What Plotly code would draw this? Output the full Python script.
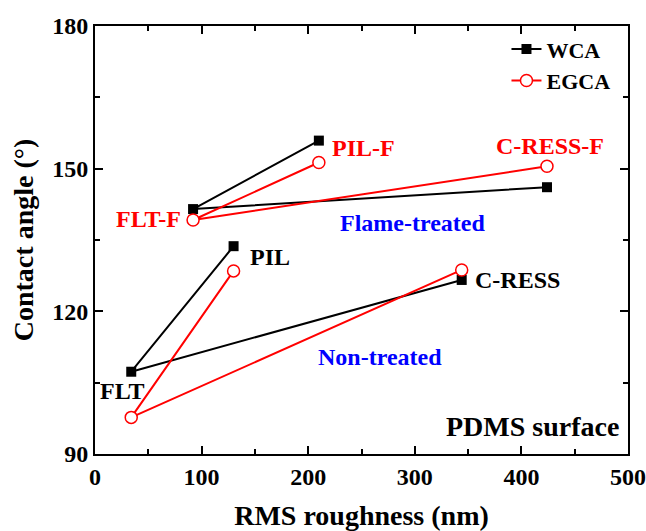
import plotly.graph_objects as go

# Data (order within each group: PIL, FLT, C-RESS -> V-shaped connection from FLT)
nt_x = [130, 34, 344]
nt_wca = [133.7, 107.3, 126.6]
nt_egca = [128.5, 97.7, 128.7]

ft_x = [210, 92, 424]
ft_wca = [155.9, 141.5, 146.1]
ft_egca = [151.3, 139.2, 150.5]

x_ticks = [0, 100, 200, 300, 400, 500]
y_ticks = [90, 120, 150, 180]

FONT = "Times New Roman, Liberation Serif, serif"

fig = go.Figure()
sq = dict(symbol="square", size=10, color="black")
circ = dict(symbol="circle", size=12, color="white", line=dict(width=1.5, color="red"))

fig.add_trace(go.Scatter(x=nt_x, y=nt_wca, mode="lines+markers", name="<b>WCA</b>",
                         line=dict(color="black", width=2), marker=sq))
fig.add_trace(go.Scatter(x=nt_x, y=nt_egca, mode="lines+markers", name="<b>EGCA</b>",
                         line=dict(color="red", width=2), marker=circ))
fig.add_trace(go.Scatter(x=ft_x, y=ft_wca, mode="lines+markers", name="WCA",
                         line=dict(color="black", width=2), marker=sq, showlegend=False))
fig.add_trace(go.Scatter(x=ft_x, y=ft_egca, mode="lines+markers", name="EGCA",
                         line=dict(color="red", width=2), marker=circ, showlegend=False))

labels = [
    dict(text="FLT-F", x=82.6, y=139.4, xanchor="right", color="red", size=24),
    dict(text="PIL-F", x=220.5, y=154.3, xanchor="left", color="red", size=24),
    dict(text="C-RESS-F", x=427, y=154.8, xanchor="center", color="red", size=24),
    dict(text="Flame-treated", x=298, y=138.6, xanchor="center", color="blue", size=24),
    dict(text="PIL", x=143.5, y=131.4, xanchor="left", color="black", size=24),
    dict(text="C-RESS", x=354.6, y=126.6, xanchor="left", color="black", size=24),
    dict(text="Non-treated", x=267, y=110.4, xanchor="center", color="blue", size=24),
    dict(text="FLT", x=25.3, y=103.3, xanchor="center", color="black", size=24),
    dict(text="PDMS surface", x=493.4, y=95.7, xanchor="right", color="black", size=28),
]
for a in labels:
    fig.add_annotation(x=a["x"], y=a["y"], text="<b>%s</b>" % a["text"], showarrow=False,
                       xanchor=a["xanchor"], yanchor="middle",
                       font=dict(family=FONT, size=a["size"], color=a["color"]))

axis_common = dict(showline=True, linecolor="black", linewidth=2, mirror="allticks",
                   ticks="inside", ticklen=8, tickwidth=1.5, tickcolor="black",
                   showgrid=False, zeroline=False, automargin=False,
                   tickfont=dict(family=FONT, size=24, color="black"))

fig.update_xaxes(range=[0, 500], tickvals=x_ticks,
                 ticktext=["<b>%d</b>" % v for v in x_ticks],
                 minor=dict(dtick=50, ticks="inside", ticklen=5, tickwidth=1.5, tickcolor="black", showgrid=False),
                 title=dict(text="<b>RMS roughness (nm)</b>", font=dict(family=FONT, size=28, color="black"), standoff=20),
                 **axis_common)
fig.update_yaxes(range=[90, 180], tickvals=y_ticks,
                 ticktext=["<b>%d</b>" % v for v in y_ticks],
                 minor=dict(dtick=15, ticks="inside", ticklen=5, tickwidth=1.5, tickcolor="black", showgrid=False),
                 title=dict(text="<b>Contact angle (°)</b>", font=dict(family=FONT, size=28, color="black"), standoff=10),
                 **axis_common)

fig.update_layout(
    width=646, height=531,
    margin=dict(l=95, r=18, t=26, b=77),
    paper_bgcolor="white", plot_bgcolor="white",
    showlegend=True,
    legend=dict(x=0.772, y=0.995, xanchor="left", yanchor="top",
                bgcolor="rgba(0,0,0,0)", font=dict(family=FONT, size=22, color="black"),
                itemwidth=30, tracegroupgap=0),
)

fig.write_html("out.html", config={"displayModeBar": False},
               post_script="document.body.style.margin='0';document.body.style.padding='0';")
